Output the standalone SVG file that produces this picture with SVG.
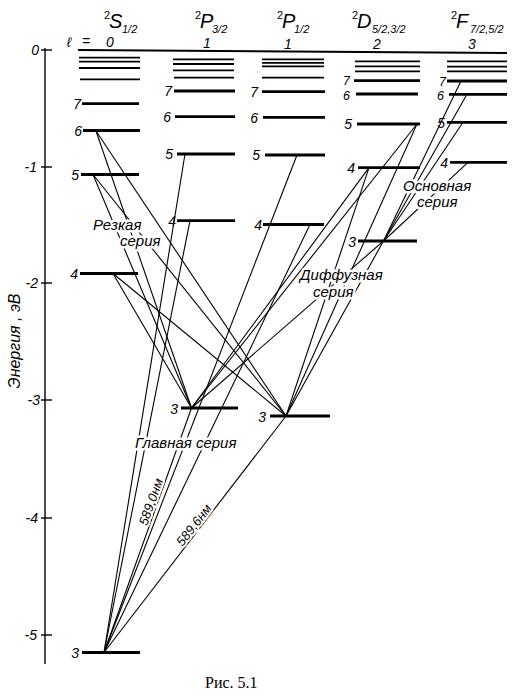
<svg xmlns="http://www.w3.org/2000/svg" width="521" height="699" viewBox="0 0 521 699">
<style>
  .lv { stroke:#000; stroke-width:2.8; fill:none; }
  .hi { stroke:#000; stroke-width:1.8; fill:none; }
  .ax { stroke:#000; stroke-width:1.4; fill:none; }
  .tr { stroke:#000; stroke-width:1.1; fill:none; }
  text { font-family:"Liberation Sans", "DejaVu Sans", sans-serif; font-style:italic; fill:#000; }
  .n { font-size:14px; text-anchor:end; }
  .ns { font-size:12.5px; text-anchor:end; }
  .hd { font-size:20px; }
  .sup { font-size:11px; font-style:normal; }
  .sub { font-size:11px; }
  .lq { font-size:14px; text-anchor:middle; }
  .ser { font-size:15px; stroke:#fff; stroke-width:5; stroke-linejoin:round; paint-order:stroke; }
  .nm { font-size:13px; text-anchor:middle; stroke:#fff; stroke-width:4; stroke-linejoin:round; paint-order:stroke; }
  .cap { font-family:"Liberation Serif", "Times New Roman", serif; font-style:normal; font-size:16px; }
</style>
<rect width="521" height="699" fill="#fff"/>

<!-- axis -->
<g id="axis">
  <line class="ax" x1="45" y1="48" x2="45" y2="664"/>
  <line class="ax" x1="41" y1="50" x2="52" y2="50"/>
  <line class="ax" x1="41" y1="167" x2="52" y2="167"/>
  <line class="ax" x1="41" y1="283" x2="52" y2="283"/>
  <line class="ax" x1="41" y1="400" x2="52" y2="400"/>
  <line class="ax" x1="41" y1="518" x2="52" y2="518"/>
  <line class="ax" x1="41" y1="635" x2="52" y2="635"/>
  <text class="n" x="39" y="55">0</text>
  <text class="n" x="37" y="172">-1</text>
  <text class="n" x="38" y="288">-2</text>
  <text class="n" x="40" y="405">-3</text>
  <text class="n" x="38" y="523">-4</text>
  <text class="n" x="37" y="640">-5</text>
  <text transform="translate(20,341) rotate(-90)" font-size="16" text-anchor="middle">Энергия , эВ</text>
</g>

<!-- headers -->
<g id="headers">
  <text class="sup" x="104" y="19">2</text><text class="hd" x="109" y="28">S</text><text class="sub" x="122" y="33">1/2</text>
  <text class="sup" x="195" y="19">2</text><text class="hd" x="200" y="28">P</text><text class="sub" x="212" y="33">3/2</text>
  <text class="sup" x="277" y="19">2</text><text class="hd" x="282" y="28">P</text><text class="sub" x="294" y="33">1/2</text>
  <text class="sup" x="352" y="19">2</text><text class="hd" x="357" y="28">D</text><text class="sub" x="372" y="33">5/2,3/2</text>
  <text class="sup" x="451" y="19">2</text><text class="hd" x="456" y="28">F</text><text class="sub" x="470" y="33" font-size="10">7/2,5/2</text>
  <text class="lq" x="69" y="47" font-size="16">ℓ</text>
  <text class="lq" x="86" y="46">=</text>
  <text class="lq" x="110" y="47">0</text>
  <text class="lq" x="207" y="48">1</text>
  <text class="lq" x="288" y="49">1</text>
  <text class="lq" x="377" y="49">2</text>
  <text class="lq" x="472" y="49">3</text>
</g>

<!-- ionization limit -->
<g id="limit">
  <line class="hi" x1="78" y1="50" x2="507" y2="53"/>
</g>

<!-- S levels -->
<g id="S-high">
  <line class="hi" x1="79" y1="57.7" x2="140" y2="57.7"/>
  <line class="hi" x1="79" y1="61.7" x2="140" y2="61.7"/>
  <line class="hi" x1="79" y1="68" x2="140" y2="68"/>
  <line class="hi" x1="80" y1="79.3" x2="140" y2="79.3"/>
</g>
<g id="S7"><line class="lv" x1="82" y1="103.7" x2="139" y2="103.7"/><text class="n" x="81" y="109">7</text></g>
<g id="S6"><line class="lv" x1="83" y1="130.5" x2="140" y2="130.5"/><text class="n" x="82" y="136">6</text></g>
<g id="S5"><line class="lv" x1="81" y1="174.5" x2="139" y2="174.5"/><text class="n" x="79" y="180">5</text></g>
<g id="S4"><line class="lv" x1="80" y1="273.5" x2="138" y2="273.5"/><text class="n" x="78" y="279">4</text></g>
<g id="S3"><line class="lv" x1="82" y1="652.5" x2="140" y2="652.5"/><text class="n" x="79" y="658">3</text></g>

<!-- P3/2 levels -->
<g id="P32-high">
  <line class="hi" x1="173" y1="59.3" x2="234" y2="59.3"/>
  <line class="hi" x1="173" y1="64" x2="234" y2="64"/>
  <line class="hi" x1="173" y1="70.3" x2="234" y2="70.3"/>
  <line class="hi" x1="174" y1="77.7" x2="234" y2="77.7"/>
</g>
<g id="P32-7"><line class="lv" x1="174" y1="91" x2="235" y2="91"/><text class="n" x="172" y="96">7</text></g>
<g id="P32-6"><line class="lv" x1="175" y1="116.7" x2="235" y2="116.7"/><text class="n" x="171" y="122">6</text></g>
<g id="P32-5"><line class="lv" x1="177" y1="154" x2="235" y2="154"/><text class="n" x="173" y="159">5</text></g>
<g id="P32-4"><line class="lv" x1="177" y1="220.7" x2="235" y2="220.7"/><text class="n" x="176" y="226">4</text></g>
<g id="P32-3"><line class="lv" x1="181" y1="408" x2="238" y2="408"/><text class="n" x="178" y="414">3</text></g>

<!-- P1/2 levels -->
<g id="P12-high">
  <line class="hi" x1="262" y1="59.3" x2="324" y2="59.3"/>
  <line class="hi" x1="262" y1="62.8" x2="324" y2="62.8"/>
  <line class="hi" x1="262" y1="66.3" x2="324" y2="66.3"/>
  <line class="hi" x1="262" y1="77.7" x2="324" y2="77.7"/>
</g>
<g id="P12-7"><line class="lv" x1="262" y1="91.7" x2="325" y2="91.7"/><text class="n" x="258" y="97">7</text></g>
<g id="P12-6"><line class="lv" x1="263" y1="117.3" x2="325" y2="117.3"/><text class="n" x="258" y="123">6</text></g>
<g id="P12-5"><line class="lv" x1="265" y1="155" x2="325" y2="155"/><text class="n" x="260" y="160">5</text></g>
<g id="P12-4"><line class="lv" x1="263" y1="224.5" x2="324" y2="224.5"/><text class="n" x="262" y="230">4</text></g>
<g id="P12-3"><line class="lv" x1="270" y1="416" x2="330" y2="416"/><text class="n" x="266" y="422">3</text></g>

<!-- D levels -->
<g id="D-high">
  <line class="hi" x1="355" y1="61.3" x2="420" y2="61.3"/>
  <line class="hi" x1="355" y1="66.3" x2="420" y2="66.3"/>
  <line class="hi" x1="355" y1="71.3" x2="420" y2="71.3"/>
</g>
<g id="D7"><line class="lv" x1="354" y1="80.7" x2="420" y2="80.7"/><text class="ns" x="350" y="85">7</text></g>
<g id="D6"><line class="lv" x1="356" y1="94" x2="418" y2="94"/><text class="ns" x="350" y="99.5">6</text></g>
<g id="D5"><line class="lv" x1="357" y1="124" x2="420" y2="124"/><text class="n" x="352" y="129">5</text></g>
<g id="D4"><line class="lv" x1="358" y1="167.7" x2="420" y2="167.7"/><text class="n" x="355" y="173">4</text></g>
<g id="D3"><line class="lv" x1="358" y1="241" x2="417" y2="241"/><text class="n" x="356" y="247">3</text></g>

<!-- F levels -->
<g id="F-high">
  <line class="hi" x1="447" y1="61.3" x2="507" y2="61.3"/>
  <line class="hi" x1="447" y1="66.7" x2="507" y2="66.7"/>
  <line class="hi" x1="447" y1="71.3" x2="507" y2="71.3"/>
</g>
<g id="F7"><line class="lv" x1="447" y1="81" x2="507" y2="81"/><text class="ns" x="446" y="85.5">7</text></g>
<g id="F6"><line class="lv" x1="449" y1="94.3" x2="507" y2="94.3"/><text class="ns" x="444" y="100">6</text></g>
<g id="F5"><line class="lv" x1="447" y1="122.3" x2="507" y2="122.3"/><text class="n" x="445" y="128">5</text></g>
<g id="F4"><line class="lv" x1="450" y1="162.3" x2="507" y2="162.3"/><text class="n" x="448" y="168">4</text></g>

<!-- transitions -->
<g id="transitions">
  <!-- sharp series -->
  <line class="tr" x1="96" y1="131" x2="191.5" y2="408"/>
  <line class="tr" x1="96" y1="131" x2="286" y2="416"/>
  <line class="tr" x1="93" y1="174.5" x2="191.5" y2="408"/>
  <line class="tr" x1="93" y1="174.5" x2="286" y2="416"/>
  <line class="tr" x1="113" y1="273.5" x2="191.5" y2="408"/>
  <line class="tr" x1="113" y1="273.5" x2="286" y2="416"/>
  <!-- principal series -->
  <line class="tr" x1="104" y1="652.5" x2="185" y2="154"/>
  <line class="tr" x1="104" y1="652.5" x2="190" y2="220.7"/>
  <line class="tr" x1="104" y1="652.5" x2="191.5" y2="408"/>
  <line class="tr" x1="104" y1="652.5" x2="297" y2="155"/>
  <line class="tr" x1="104" y1="652.5" x2="310" y2="224.5"/>
  <line class="tr" x1="104" y1="652.5" x2="286" y2="416"/>
  <!-- diffuse series -->
  <line class="tr" x1="417" y1="124" x2="191.5" y2="408"/>
  <line class="tr" x1="417" y1="124" x2="286" y2="416"/>
  <line class="tr" x1="369" y1="167.7" x2="191.5" y2="408"/>
  <line class="tr" x1="369" y1="167.7" x2="286" y2="416"/>
  <line class="tr" x1="383.5" y1="241" x2="191.5" y2="408"/>
  <line class="tr" x1="383.5" y1="241" x2="286" y2="416"/>
  <!-- fundamental series -->
  <line class="tr" x1="461" y1="81" x2="383.5" y2="241"/>
  <line class="tr" x1="467" y1="94.3" x2="383.5" y2="241"/>
  <line class="tr" x1="463" y1="122.3" x2="383.5" y2="241"/>
  <line class="tr" x1="468" y1="162.3" x2="383.5" y2="241"/>
</g>

<!-- series labels -->
<g id="labels">
  <text class="ser" x="93" y="230">Резкая</text>
  <text class="ser" x="120" y="246">серия</text>
  <text class="ser" x="300" y="280">Диффузная</text>
  <text class="ser" x="313" y="297">серия</text>
  <text class="ser" x="403" y="191" font-size="14">Основная</text>
  <text class="ser" x="417" y="207" font-size="14">серия</text>
  <text class="ser" x="135" y="448">Главная  серия</text>
  <text class="nm" transform="translate(157,504) rotate(-70.3)" dy="-2">589,0нм</text>
  <text class="nm" transform="translate(199,529) rotate(-52.4)" dy="-2">589,6нм</text>
</g>

<text class="cap" x="205" y="688">Рис. 5.1</text>
</svg>
